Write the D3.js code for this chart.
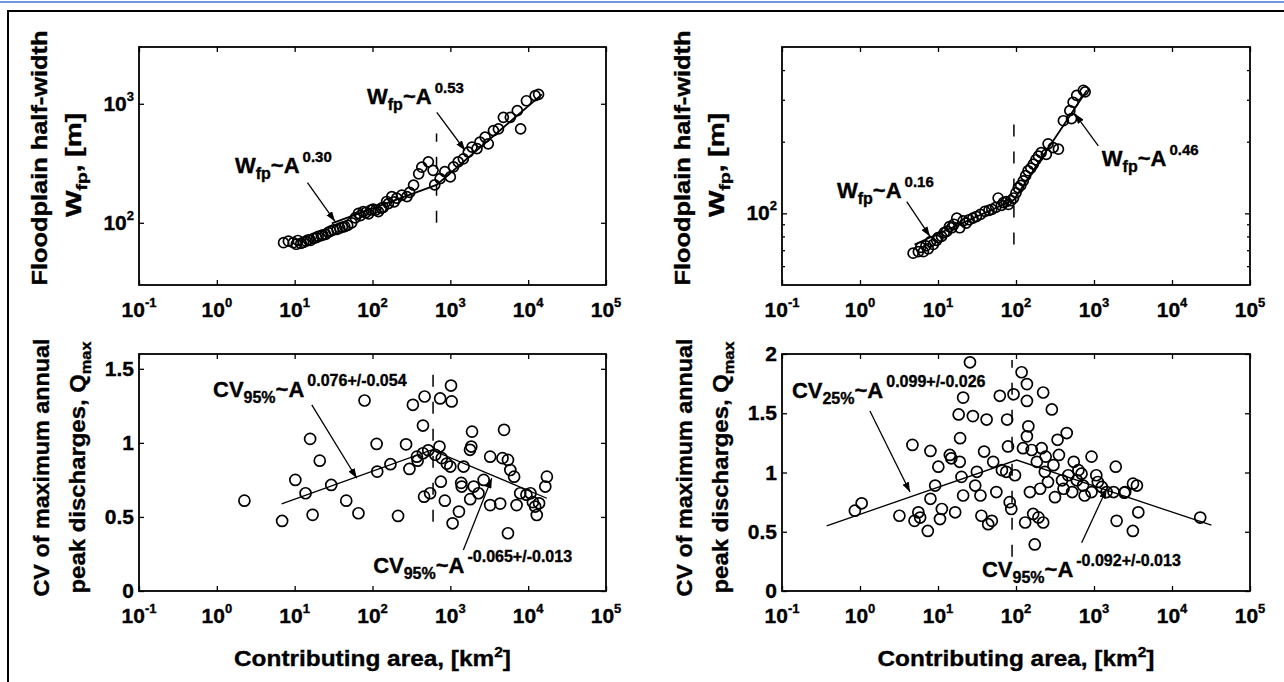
<!DOCTYPE html>
<html><head><meta charset="utf-8">
<script src="https://cdn.jsdelivr.net/npm/d3@7"></script>
<style>
body{margin:0;background:#fff;}
svg{display:block;}
text{font-family:"Liberation Sans",Arial,Helvetica,sans-serif;font-weight:bold;fill:#000;stroke:#000;stroke-width:0.35px;}
</style></head><body>
<svg id="c" width="1284" height="682"></svg>
<script>
// ---------- tick labels ----------
const xTickExp = [-1, 0, 1, 2, 3, 4, 5];
const xTickSup = ["-1", "0", "1", "2", "3", "4", "5"];
const tlYTicks = [100, 1000];
const tlYSup = ["2", "3"];
const trYTicks = [100];
const trYSup = ["2"];
const trYMinor = [60, 70, 80, 90, 200, 300, 400];
const blYTicks = [0, 0.5, 1, 1.5];
const blYLabels = ["0", "0.5", "1", "1.5"];
const brYTicks = [0, 0.5, 1, 1.5, 2];
const brYLabels = ["0", "0.5", "1", "1.5", "2"];

// ---------- top-left: floodplain half-width ----------
const tlA = [7.2,8.3,9.6,10.5,11,12,13,14,15,16,17.5,19,20,22,23,25,27,29,31.5,35,38,41,44,48,54,60,66,70,76,82,89,95,102,110,119,130,138,152,160,177,190,205,238,277,300,337,392,430,522,600,630,740,850,1000,1100,1260,1470,1700,1900,2200,2400,2800,3070,3580,4150,4800,5900,7250,8000,9500,12300,13600];
const tlW = [68,70,68,66,71,67,68.5,70,72,71,74,75,77,78,79,80,83,85,87,88,90,92,93,95,100,110,120,115,124,122,119,128,130,128,124,133,135,151,145,166,150,161,171,166,180,207,258,293,325,276,208,235,269,243,295,325,345,393,433,420,476,524,461,595,615,769,770,875,615,1060,1170,1200];
const tlFitA = [30, 665, 15000];
const tlFitW = [99, 208, 1200];
const tlBreakA = [665, 665];
const tlBreakW = [100, 562];

// ---------- top-right ----------
const trA = [4.8,5.6,6,6.5,7,7.5,8,8.7,9.6,10,11.1,12,12.9,14,15,16,17.4,19,21,23,25,28,31,35,40,45,49,55,59,65,69,75,80,86,93,100,107,115,124,133,143,155,167,180,194,210,245,258,300,350,405,490,515,540,600,730,770];
const trW = [68,69,72,69,73,71,76,74,77,79,80,83,84,88,87,90,95.5,87,93,91,94,95.5,97,99,102,103,104,106,116,108,111,112,109,113,116,122,128,131,137,144,151,155,161,168,174,180,177,196,189,186,245,270,250,293,313,329,324];
const trFitA = [5, 94, 810];
const trFitW = [74, 114, 329];
const trBreakA = [94, 94];
const trBreakW = [74, 245];

// ---------- bottom-left: CV ----------
const blA = [2.26,6.9,10.2,13.8,15.8,17,21,29.5,46,66,79,113,115,170,213,270,298,330,372,445,467,445,460,550,725,740,755,775,850,1020,1040,1000,1070,1290,1400,1480,1790,1900,2000,2300,2680,3250,3250,1860,1380,1800,4370,4900,4680,5500,5900,5500,6600,7100,7900,9500,10700,11500,12300,12900,13800,16600,17400,380,520,640,900];
const blCV = [0.61,0.473,0.75,0.66,1.027,0.514,0.88,0.716,0.61,0.525,1.286,0.993,0.806,0.856,0.507,0.99,0.824,1.257,0.907,1.117,1.313,0.93,0.637,0.66,0.975,1.30,0.738,0.897,0.61,1.387,1.28,0.84,0.457,0.536,0.705,0.84,0.953,1.076,0.705,0.66,0.75,0.907,0.58,0.975,0.73,0.62,0.59,1.088,0.897,0.885,0.817,0.39,0.772,0.58,0.66,0.65,0.66,0.60,0.57,0.513,0.592,0.705,0.772,0.88,0.95,0.92,0.86];
const blFitA = [6.8, 575, 17400];
const blFitCV = [0.588, 0.953, 0.626];
const blBreakA = [600, 600];
const blBreakCV = [0.468, 1.46];

// ---------- bottom-right ----------
const brA = [0.86,1.05,3.2,4.7,5.0,5.6,5.9,7.4,8.0,8.0,9.2,10.1,10.6,11.2,14.2,14.8,16.6,19,18.4,19.2,21,20,21,25.7,28,30,31.5,35,36,39,42,44,49,51,56,62,66,75,77,79,83,87,93,97,118,123,131,138,138,144,138,151,159,166,174,185,194,204,213,223,223,234,240,257,288,302,316,341,355,389,407,447,468,525,550,603,631,692,724,759,930,930,1070,1120,1260,1450,1900,1950,1780,2510,3150,3160,3550,3700,2450,23000];
const brCV = [0.678,0.74,0.635,1.233,0.592,0.664,0.62,0.507,1.182,0.778,0.89,1.049,0.607,0.692,1.148,1.12,0.664,1.09,1.49,1.29,1.632,0.963,0.806,1.93,1.476,0.89,1.006,0.806,0.635,1.177,1.447,0.564,0.592,1.09,0.835,1.647,1.02,1.006,1.447,1.22,0.75,0.692,1.66,0.977,1.846,1.205,0.578,1.604,1.746,1.39,1.305,0.835,1.19,0.65,0.393,1.09,0.621,0.863,1.205,0.578,1.675,1.006,1.134,0.92,1.532,1.062,0.792,1.276,1.148,0.934,0.863,1.333,0.977,0.835,1.09,0.934,1.02,0.99,0.89,0.806,1.134,0.835,0.977,0.92,0.878,0.835,1.049,0.592,0.835,0.835,0.507,0.906,0.89,0.664,0.83,0.62];
const brFitA = [0.374, 102, 32000];
const brFitCV = [0.55, 1.105, 0.555];
const brBreakA = [89, 89];
const brBreakCV = [0.29, 1.95];

// ---------- annotations (text + arrow, in data units) ----------
const tlNotes = [
  {tx: 1.71, ty: 261, parts: [["W","n"],["fp","sub"],["~A","n"],["0.30","sup"]], arrow: [14.6, 217, 33, 102.6]},
  {tx: 85, ty: 1000, parts: [["W","n"],["fp","sub"],["~A","n"],["0.53","sup"]], arrow: [670, 846, 1550, 405]}
];
const trNotes = [
  {tx: 0.507, ty: 116, parts: [["W","n"],["fp","sub"],["~A","n"],["0.16","sup"]], arrow: [3.97, 112, 7.9, 80]},
  {tx: 1260, ty: 158, parts: [["W","n"],["fp","sub"],["~A","n"],["0.46","sup"]], arrow: [1135, 192, 570, 262]}
];
const blNotes = [
  {tx: 0.893, ty: 1.311, parts: [["CV","n"],["95%","sub"],["~A","n"],["0.076+/-0.054","sup"]], arrow: [16.6, 1.257, 62.8, 0.761]},
  {tx: 102, ty: 0.122, parts: [["CV","n"],["95%","sub"],["~A","n"],["-0.065+/-0.013","sup"]], arrow: [1470, 0.277, 3410, 0.761]}
];
const brNotes = [
  {tx: 0.134, ty: 1.632, parts: [["CV","n"],["25%","sub"],["~A","n"],["0.099+/-0.026","sup"]], arrow: [1.34, 1.519, 4.38, 0.835]},
  {tx: 36.6, ty: 0.12, parts: [["CV","n"],["95%","sub"],["~A","n"],["-0.092+/-0.013","sup"]], arrow: [695, 0.408, 1455, 0.863]}
];

const svg = d3.select("#c");
const defs = svg.append("defs");
defs.append("marker").attr("id","ah").attr("viewBox","0 0 10 7").attr("refX",10).attr("refY",3.5)
  .attr("markerWidth",10).attr("markerHeight",7).attr("markerUnits","userSpaceOnUse").attr("orient","auto")
  .append("path").attr("d","M0,0 L10,3.5 L0,7 z").attr("fill","#000");

// frame
svg.append("line").attr("x1",0).attr("x2",1284).attr("y1",2).attr("y2",2).attr("stroke","#6f96dc").attr("stroke-width",2);
svg.append("line").attr("x1",7).attr("x2",1284).attr("y1",11).attr("y2",11).attr("stroke","#000").attr("stroke-width",2);
svg.append("line").attr("x1",8).attr("x2",8).attr("y1",11).attr("y2",682).attr("stroke","#000").attr("stroke-width",2);

function richText(g, x, y, parts, big, sub, sup) {
  const t = g.append("text").attr("x", x).attr("y", y).style("font-size", big + "px");
  let shift = 0;
  parts.forEach(([s, k]) => {
    const ts = t.append("tspan").text(s);
    if (k === "sub") { ts.attr("dy", 6 - shift).style("font-size", sub + "px"); shift = 6; }
    else if (k === "sup") { ts.attr("dy", -11 - shift).attr("dx", 3).style("font-size", sup + "px"); shift = -11; }
    else { if (shift !== 0) ts.attr("dy", -shift); shift = 0; }
  });
  return t;
}

function addAxis(g, gen, scale, values, pos, size, horiz) {
  const a = g.append("g").attr("transform", horiz ? `translate(0,${pos})` : `translate(${pos},0)`)
    .call(gen(scale).tickValues(values).tickSizeInner(size).tickSizeOuter(0).tickFormat(""));
  a.select(".domain").remove();
  a.selectAll("line").attr("stroke", "#000").attr("stroke-width", 1.3);
  a.selectAll("text").remove();
}

function panel(cfg) {
  const g = svg.append("g");
  const x = d3.scaleLog().domain([0.1, 1e5]).range([cfg.l, cfg.r]);
  const y = cfg.ylog ? d3.scaleLog().domain(cfg.yd).range([cfg.b, cfg.t])
                     : d3.scaleLinear().domain(cfg.yd).range([cfg.b, cfg.t]);
  const xt = xTickExp.map(e => Math.pow(10, e));
  addAxis(g, d3.axisBottom, x, xt, cfg.b, -5, true);
  addAxis(g, d3.axisTop, x, xt, cfg.t, -5, true);
  addAxis(g, d3.axisLeft, y, cfg.yt, cfg.l, -5, false);
  addAxis(g, d3.axisRight, y, cfg.yt, cfg.r, -5, false);
  if (cfg.ym) {
    addAxis(g, d3.axisLeft, y, cfg.ym, cfg.l, -3, false);
    addAxis(g, d3.axisRight, y, cfg.ym, cfg.r, -3, false);
  }
  g.append("rect").attr("x", cfg.l).attr("y", cfg.t).attr("width", cfg.r - cfg.l).attr("height", cfg.b - cfg.t)
    .attr("fill", "none").attr("stroke", "#000").attr("stroke-width", 1.8);
  xt.forEach((v, i) => {
    const t = g.append("text").attr("x", x(v)).attr("y", cfg.b + 32).attr("text-anchor", "middle").style("font-size", "21px");
    t.append("tspan").text("10");
    t.append("tspan").attr("dy", -10).style("font-size", "13px").text(xTickSup[i]);
  });
  cfg.yt.forEach((v, i) => {
    const t = g.append("text").attr("x", cfg.l - 5).attr("y", y(v) + 7).attr("text-anchor", "end").style("font-size", "21px");
    if (cfg.ylog) {
      t.append("tspan").text("10");
      t.append("tspan").attr("dy", -10).style("font-size", "13px").text(cfg.ysup[i]);
    } else {
      t.text(cfg.ylab[i]);
    }
  });
  g.append("line").attr("x1", x(cfg.brkX[0])).attr("x2", x(cfg.brkX[1]))
    .attr("y1", y(cfg.brkY[0])).attr("y2", y(cfg.brkY[1]))
    .attr("stroke", "#000").attr("stroke-width", 1.5).attr("stroke-dasharray", "12,15");
  g.append("g").selectAll("circle").data(cfg.A.map((a, i) => [a, cfg.V[i]])).join("circle")
    .attr("cx", d => x(d[0])).attr("cy", d => y(d[1])).attr("r", cfg.r0)
    .attr("fill", "none").attr("stroke", "#000").attr("stroke-width", 1.7);
  g.append("path").datum(cfg.fitA.map((a, i) => [a, cfg.fitV[i]]))
    .attr("d", d3.line().x(d => x(d[0])).y(d => y(d[1])))
    .attr("fill", "none").attr("stroke", "#000").attr("stroke-width", cfg.fitW);
  cfg.notes.forEach(n => {
    g.append("line").attr("x1", x(n.arrow[0])).attr("y1", y(n.arrow[1])).attr("x2", x(n.arrow[2])).attr("y2", y(n.arrow[3]))
      .attr("stroke", "#000").attr("stroke-width", 1.3).attr("marker-end", "url(#ah)");
    richText(g, x(n.tx), y(n.ty), n.parts, cfg.nb, cfg.ns, cfg.np);
  });
  g.append("text").attr("transform", `translate(${cfg.l + cfg.yl1dx},${(cfg.t + cfg.b) / 2 + cfg.ylcy}) rotate(-90)`)
    .attr("text-anchor", "middle").style("font-size", "22px").attr("textLength", cfg.yl1len).attr("lengthAdjust", "spacingAndGlyphs")
    .text(cfg.yl1);
  const lab2 = g.append("text").attr("transform", `translate(${cfg.l + cfg.yl2dx},${(cfg.t + cfg.b) / 2 + cfg.ylcy2}) rotate(-90)`)
    .attr("text-anchor", "middle").style("font-size", "22px").attr("textLength", cfg.yl2len).attr("lengthAdjust", "spacingAndGlyphs");
  cfg.yl2.forEach(([s, k], i) => {
    const ts = lab2.append("tspan").text(s);
    if (k === "sub") ts.attr("dy", 6).style("font-size", "15px");
    else if (i > 0 && cfg.yl2[i - 1][1] === "sub") ts.attr("dy", -6);
  });
  if (cfg.xlab) {
    const t = g.append("text").attr("x", (cfg.l + cfg.r) / 2).attr("y", 666).attr("text-anchor", "middle")
      .style("font-size", "22px").attr("textLength", 277).attr("lengthAdjust", "spacingAndGlyphs");
    t.append("tspan").text("Contributing area, [km");
    t.append("tspan").attr("dy", -9).style("font-size", "14px").text("2");
    t.append("tspan").attr("dy", 9).text("]");
  }
}

const wLab2 = [["W","n"],["fp","sub"],[", [m]","n"]];
const qLab2 = [["peak discharges, Q","n"],["max","sub"]];

panel({l:139, r:606, t:47, b:285, ylog:true, yd:[30,3000], yt:tlYTicks, ysup:tlYSup,
  A:tlA, V:tlW, fitA:tlFitA, fitV:tlFitW, brkX:tlBreakA, brkY:tlBreakW, r0:5, fitW:1.8,
  notes:tlNotes, nb:22, ns:16, np:15,
  yl1:"Floodplain half-width", yl1dx:-92, yl1len:255, yl2:wLab2, yl2dx:-58, yl2len:104, ylcy:-8, ylcy2:-1});
panel({l:782, r:1250, t:47, b:285, ylog:true, yd:[50,500], yt:trYTicks, ysup:trYSup, ym:trYMinor,
  A:trA, V:trW, fitA:trFitA, fitV:trFitW, brkX:trBreakA, brkY:trBreakW, r0:5, fitW:1.8,
  notes:trNotes, nb:22, ns:16, np:15,
  yl1:"Floodplain half-width", yl1dx:-92, yl1len:255, yl2:wLab2, yl2dx:-58, yl2len:104, ylcy:-8, ylcy2:-1});
panel({l:139, r:606, t:354, b:591, ylog:false, yd:[0,1.6], yt:blYTicks, ylab:blYLabels,
  A:blA, V:blCV, fitA:blFitA, fitV:blFitCV, brkX:blBreakA, brkY:blBreakCV, r0:5.5, fitW:1.3,
  notes:blNotes, nb:22, ns:16, np:16, xlab:true,
  yl1:"CV of maximum annual", yl1dx:-90, yl1len:258, yl2:qLab2, yl2dx:-54, yl2len:252, ylcy:-5, ylcy2:-5});
panel({l:782, r:1250, t:354, b:591, ylog:false, yd:[0,2], yt:brYTicks, ylab:brYLabels,
  A:brA, V:brCV, fitA:brFitA, fitV:brFitCV, brkX:brBreakA, brkY:brBreakCV, r0:5.5, fitW:1.3,
  notes:brNotes, nb:22, ns:16, np:16, xlab:true,
  yl1:"CV of maximum annual", yl1dx:-90, yl1len:258, yl2:qLab2, yl2dx:-54, yl2len:252, ylcy:-5, ylcy2:-5});
</script>
</body></html>
